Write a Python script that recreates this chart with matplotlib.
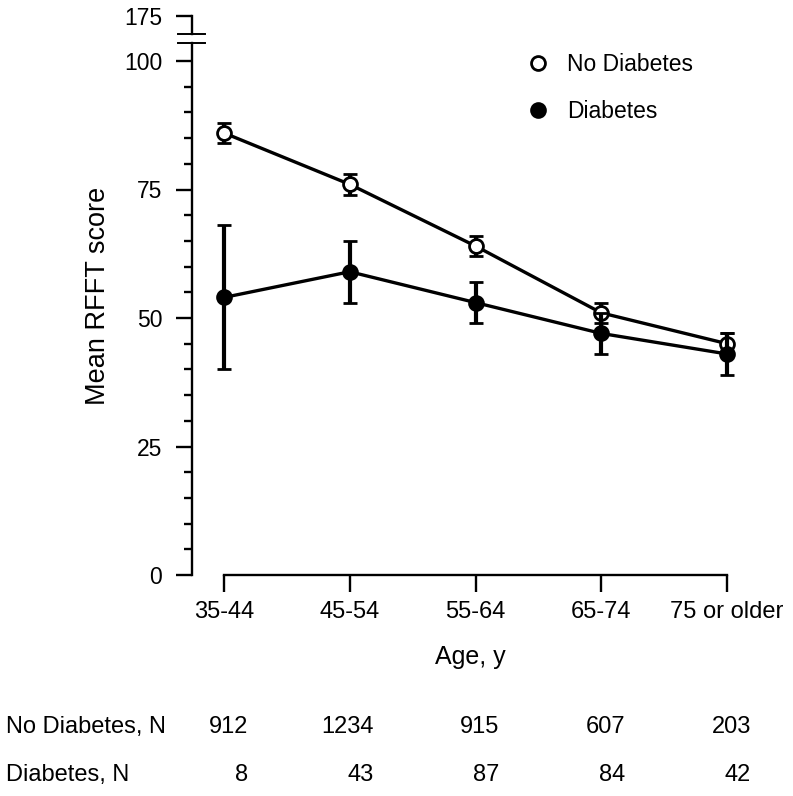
import numpy as np
import matplotlib.pyplot as plt
from matplotlib.lines import Line2D
from matplotlib.ticker import FixedLocator
import matplotlib.transforms as mtrans

plt.rcParams['font.family'] = ['Liberation Sans', 'DejaVu Sans']

# Data
age_groups = ['35-44', '45-54', '55-64', '65-74', '75 or older']
no_diab_mean = [86, 76, 64, 51, 45]
no_diab_err = [2, 2, 2, 2, 2]
diab_mean = [54, 59, 53, 47, 43]
diab_low = [40, 53, 49, 43, 39]
diab_high = [68, 65, 57, 51, 47]
n_no_diab = ['912', '1234', '915', '607', '203']
n_diab = ['8', '43', '87', '84', '42']

W, H = 793, 796
fig = plt.figure(figsize=(W / 100, H / 100), dpi=100)

x = np.arange(len(age_groups))
px_per_unit = (575 - 61) / 100.0

# main axes (0..~103)
ax = fig.add_axes([192 / W, 1 - 575 / H, (765 - 192) / W, (575 - 43) / H])
ax.set_xlim(-0.2545, 4.302)
ax.set_ylim(0, (575 - 43) / px_per_unit)

# top stub axes for 175
ax_top = fig.add_axes([192 / W, 1 - 34 / H, (765 - 192) / W, (34 - 16) / H])
ax_top.set_xlim(ax.get_xlim())
ax_top.set_ylim(175 - (34 - 16) / px_per_unit, 175)

lw = 2.4
ax.errorbar(x, no_diab_mean, yerr=no_diab_err, color='black', lw=lw,
            marker='o', ms=10, mfc='white', mec='black', mew=2.0,
            elinewidth=3.0, capsize=5.2, capthick=3.0, zorder=3)
diab_err = [np.array(diab_mean) - np.array(diab_low),
            np.array(diab_high) - np.array(diab_mean)]
ax.errorbar(x, diab_mean, yerr=diab_err, color='black', lw=lw,
            marker='o', ms=10, mfc='black', mec='black', mew=2.0,
            elinewidth=3.0, capsize=5.2, capthick=3.0, zorder=4)

# spines
for s in ['top', 'right']:
    ax.spines[s].set_visible(False)
for s in ['top', 'right', 'bottom']:
    ax_top.spines[s].set_visible(False)
ax.spines['left'].set_linewidth(1.7)
ax.spines['bottom'].set_linewidth(1.7)
ax.spines['bottom'].set_bounds(0, 4)
ax_top.spines['left'].set_linewidth(1.7)

ax.set_xticks(x)
ax.set_xticklabels(age_groups, fontsize=17)
ax.set_yticks([0, 25, 50, 75, 100])
ax.yaxis.set_minor_locator(FixedLocator([v for v in range(5, 100, 5) if v % 25]))
ax.tick_params(axis='y', which='major', direction='out', length=11.5, width=1.7,
               labelsize=16.5, pad=10)
ax.tick_params(axis='y', which='minor', direction='out', length=6, width=1.7)
ax.tick_params(axis='x', which='major', direction='out', length=12, width=1.7,
               pad=7)

ax_top.set_xticks([])
ax_top.set_yticks([175])
ax_top.tick_params(axis='y', direction='out', length=11.5, width=1.7,
                   labelsize=16.5, pad=10)
ax_top.patch.set_alpha(0)

# break marks
for yy in (34, 43):
    fig.add_artist(Line2D([178 / W, 205 / W], [1 - yy / H, 1 - yy / H],
                          color='black', lw=1.4))

# axis labels
fig.text(98 / W, 1 - 296 / H, 'Mean RFFT score', rotation=90,
         ha='center', va='center', fontsize=19.5)
fig.text(470 / W, 1 - 657 / H, 'Age, y', ha='center', va='center', fontsize=18)

# legend
handles = [Line2D([], [], ls='none', marker='o', ms=10, mfc='white', mec='black', mew=2.0),
           Line2D([], [], ls='none', marker='o', ms=10, mfc='black', mec='black', mew=2.0)]
fig.legend(handles, ['No Diabetes', 'Diabetes'], loc='upper left',
           bbox_to_anchor=(506 / W, 1 - 32 / H), frameon=False, fontsize=16.5,
           handlelength=1.0, handletextpad=0.75, labelspacing=1.05)

# sample sizes table
trans = mtrans.blended_transform_factory(ax.transData, fig.transFigure)
fig.text(6 / W, 1 - 727 / H, 'No Diabetes, N', ha='left', va='center', fontsize=17)
fig.text(6 / W, 1 - 775 / H, 'Diabetes, N', ha='left', va='center', fontsize=17)
for i in range(len(age_groups)):
    ax.text(x[i] + 0.19, 1 - 727 / H, n_no_diab[i], transform=trans,
            ha='right', va='center', fontsize=17, clip_on=False)
    ax.text(x[i] + 0.19, 1 - 775 / H, n_diab[i], transform=trans,
            ha='right', va='center', fontsize=17, clip_on=False)

fig.savefig('out.png', dpi=100)
